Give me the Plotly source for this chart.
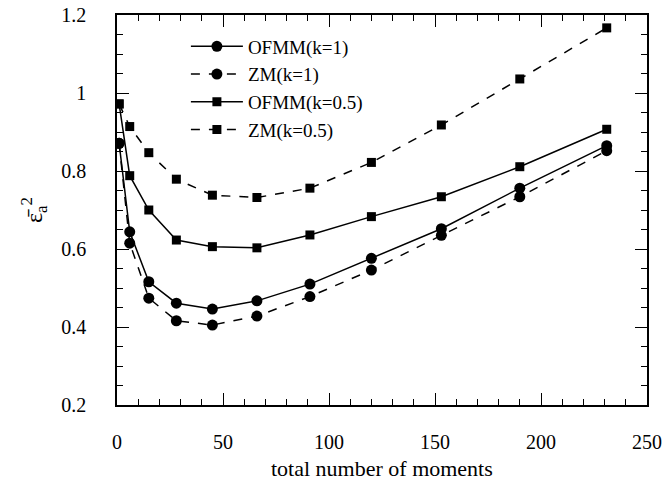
import plotly.graph_objects as go

moments = [1, 6, 15, 28, 45, 66, 91, 120, 153, 190, 231]
ofmm_k1 = [0.871, 0.644, 0.516, 0.461, 0.446, 0.467, 0.510, 0.576, 0.652, 0.756, 0.865]
zm_k1 = [0.871, 0.615, 0.474, 0.416, 0.405, 0.428, 0.478, 0.546, 0.635, 0.734, 0.852]
ofmm_k05 = [0.972, 0.788, 0.700, 0.623, 0.606, 0.603, 0.636, 0.683, 0.734, 0.811, 0.907]
zm_k05 = [0.972, 0.914, 0.847, 0.779, 0.738, 0.732, 0.756, 0.822, 0.918, 1.036, 1.167]
y_ticks = [0.2, 0.4, 0.6, 0.8, 1.0, 1.2]
y_tick_labels = ["0.2", "0.4", "0.6", "0.8", "1", "1.2"]

series = [
    ("OFMM(k=1)", ofmm_k1, "solid", "circle", 11),
    ("ZM(k=1)", zm_k1, "dash", "circle", 11),
    ("OFMM(k=0.5)", ofmm_k05, "solid", "square", 9),
    ("ZM(k=0.5)", zm_k05, "dash", "square", 9),
]

FONT = "'Liberation Serif', 'Times New Roman', 'DejaVu Serif', serif"
fig = go.Figure()
for name, vals, dash, sym, sz in series:
    fig.add_trace(go.Scatter(
        x=moments, y=vals, name=name, mode="lines+markers",
        line=dict(color="black", width=1.5, dash=dash),
        marker=dict(symbol=sym, size=sz, color="black"),
    ))

axis_common = dict(
    showline=True, linecolor="black", linewidth=1.5, mirror="allticks",
    ticks="inside", ticklen=12, tickwidth=1.2, tickcolor="black",
    showgrid=False, zeroline=False, automargin=False,
    tickfont=dict(family=FONT, size=20, color="black"),
)
fig.update_xaxes(
    range=[0, 250], dtick=50, tick0=0,
    minor=dict(dtick=10, ticks="inside", ticklen=6, tickcolor="black", tickwidth=1),
    ticklabelstandoff=18,
    **axis_common,
)
fig.update_yaxes(
    range=[0.2, 1.2], tickvals=y_ticks, ticktext=y_tick_labels,
    minor=dict(dtick=0.05, tick0=0.2, ticks="inside", ticklen=6, tickcolor="black", tickwidth=1),
    ticklabelstandoff=25,
    title=dict(text="ε̄<sub>a</sub><sup>2</sup>", font=dict(family=FONT, size=24, color="black"), standoff=12),
    **axis_common,
)
fig.add_annotation(
    text="total number of moments", xref="paper", yref="paper",
    x=0.5, y=-0.164, xanchor="center", yanchor="middle", showarrow=False,
    font=dict(family=FONT, size=22, color="black"),
)
fig.update_layout(
    width=667, height=480,
    margin=dict(l=117, r=20, t=15, b=75, autoexpand=False),
    paper_bgcolor="white", plot_bgcolor="white",
    showlegend=True,
    legend=dict(x=0.13, y=0.968, xanchor="left", yanchor="top",
                bgcolor="rgba(0,0,0,0)", font=dict(family=FONT, size=19, color="black"),
                tracegroupgap=0, itemwidth=52),
)
fig.write_html("out.html", config={"displayModeBar": False},
               post_script="document.body.style.margin='0';document.body.style.overflow='hidden';")
